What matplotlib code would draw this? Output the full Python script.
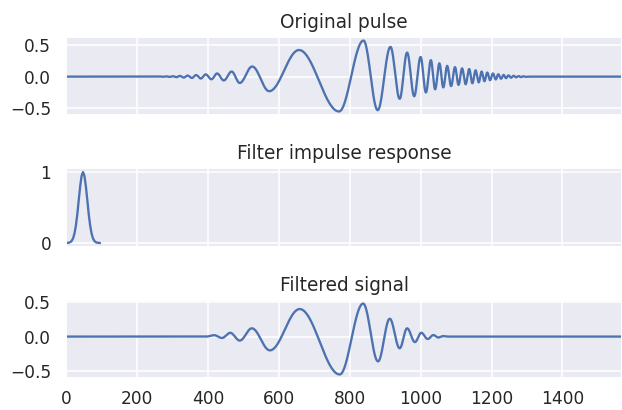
import numpy as np
import matplotlib
matplotlib.use("Agg")
import matplotlib.pyplot as plt
import seaborn as sns

# ---- data ----
n_samples = 1568

# Original pulse: turning points (sample index, amplitude)
pulse_x = [0, 245, 257, 265, 274, 283, 292, 301, 311, 321, 332, 343, 355, 367, 380,
           394, 410, 426, 445, 467, 490, 525, 573, 657, 770, 839, 879, 915, 941,
           962, 982, 1000, 1015, 1029, 1041, 1053, 1064, 1075, 1086, 1097, 1107,
           1117, 1127, 1137, 1146, 1155, 1164, 1172, 1180, 1188, 1196, 1204, 1212,
           1219, 1227, 1234, 1241, 1248, 1255, 1262, 1269, 1276, 1283, 1290, 1297,
           1310, 1568]
pulse_y = [0.0, 0.0, -0.001, 0.002, -0.003, 0.004, -0.005, 0.007, -0.009, 0.011,
           -0.014, 0.017, -0.021, 0.025, -0.03, 0.035, -0.042, 0.05, -0.06, 0.08,
           -0.10, 0.16, -0.23, 0.42, -0.55, 0.57, -0.53, 0.47, -0.35, 0.38, -0.31,
           0.31, -0.25, 0.26, -0.2, 0.21, -0.17, 0.17, -0.15, 0.15, -0.13, 0.13,
           -0.12, 0.12, -0.105, 0.10, -0.09, 0.08, -0.072, 0.065, -0.057, 0.05,
           -0.044, 0.038, -0.033, 0.028, -0.024, 0.02, -0.017, 0.014, -0.011, 0.009,
           -0.007, 0.005, -0.003, 0.0, 0.0]

# Filter impulse response samples
filter_x = [0, 4, 8, 12, 16, 20, 24, 28, 32, 36, 40, 44, 48, 52, 56, 60, 64, 68,
            72, 76, 80, 84, 88, 92, 96]
filter_y = [0.0, 0.001, 0.004, 0.011, 0.029, 0.066, 0.135, 0.25, 0.41, 0.61, 0.80,
            0.946, 1.0, 0.946, 0.80, 0.61, 0.41, 0.25, 0.135, 0.066, 0.029, 0.011,
            0.004, 0.001, 0.0]

# Filtered signal: turning points
filtered_x = [0, 395, 418, 440, 463, 490, 524, 575, 659, 772, 838, 880, 913, 941,
              962, 984, 1002, 1020, 1036, 1050, 1063, 1078, 1568]
filtered_y = [0.0, 0.0, 0.02, -0.02, 0.055, -0.058, 0.12, -0.2, 0.4, -0.55, 0.48,
              -0.36, 0.26, -0.17, 0.12, -0.08, 0.055, -0.035, 0.022, -0.013, 0.007,
              0.0, 0.0]

titles = ["Original pulse", "Filter impulse response", "Filtered signal"]
xticks = [0, 200, 400, 600, 800, 1000, 1200, 1400]


def smooth_through(xs, ys, per=40):
    """Smooth half-cosine path through successive turning points."""
    out_x, out_y = [], []
    t = np.linspace(0, 1, per, endpoint=False)
    for i in range(len(xs) - 1):
        x0, x1 = xs[i], xs[i + 1]
        y0, y1 = ys[i], ys[i + 1]
        out_x.append(x0 + (x1 - x0) * t)
        out_y.append(y0 + (y1 - y0) * (1 - np.cos(np.pi * t)) / 2)
    out_x.append([xs[-1]])
    out_y.append([ys[-1]])
    return np.concatenate(out_x), np.concatenate(out_y)


sns.set_theme(style="darkgrid")
plt.rcParams["font.family"] = ["DejaVu Sans"]

DPI = 111
fig = plt.figure(figsize=(622 / DPI, 410 / DPI), dpi=DPI)
W, H = 622, 410
left, width = 66 / W, 556 / W
ph = 78 / H
ax0 = fig.add_axes([left, 1 - 115 / H, width, ph])
ax1 = fig.add_axes([left, 1 - 246.5 / H, width, ph], sharex=ax0)
ax2 = fig.add_axes([left, 1 - 378 / H, width, ph], sharex=ax0)

color = "#4c72b0"
px, py = smooth_through(pulse_x, pulse_y)
ax0.plot(px, py, color=color)
ax1.plot(filter_x, filter_y, color=color)
fx, fy = smooth_through(filtered_x, filtered_y)
ax2.plot(fx, fy, color=color)

for ax, title in zip((ax0, ax1, ax2), titles):
    ax.set_title(title)

ax0.set_yticks([-0.5, 0.0, 0.5])
ax2.set_yticks([-0.5, 0.0, 0.5])
ax1.set_yticks([0, 1])
ax0.set_xlim(0, n_samples)
ax2.set_xticks(xticks)
ax2.tick_params(axis="x", pad=1.8)
plt.setp(ax0.get_xticklabels(), visible=False)
plt.setp(ax1.get_xticklabels(), visible=False)

fig.savefig("out.png", dpi=DPI)
